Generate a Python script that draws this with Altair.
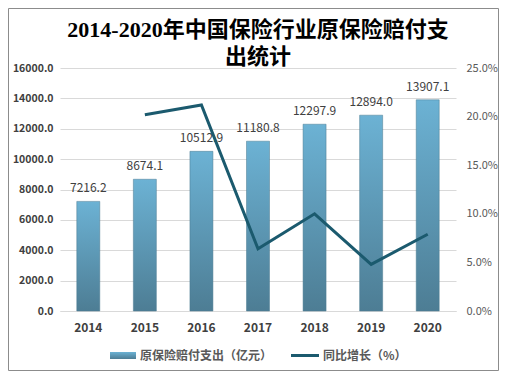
import altair as alt
import pandas as pd

years = ["2014", "2015", "2016", "2017", "2018", "2019", "2020"]
payout = [7216.2, 8674.1, 10512.9, 11180.8, 12297.9, 12894.0, 13907.1]
growth_pct = [None, 20.2, 21.2, 6.4, 10.0, 4.8, 7.9]
left_ticks = [0, 2000, 4000, 6000, 8000, 10000, 12000, 14000, 16000]
right_ticks = [0, 0.05, 0.1, 0.15, 0.2, 0.25]

title_line1 = "2014-2020年中国保险行业原保险赔付支"
title_line2 = "出统计"
legend_bar = "原保险赔付支出（亿元）"
legend_line = "同比增长（%）"

df = pd.DataFrame({"year": years, "payout": payout, "growth": growth_pct})
df_line = df.dropna().copy()
df_line["g"] = df_line["growth"] / 100.0

FONT = "Noto Sans CJK SC"
TFONT = "Liberation Serif, Noto Sans CJK SC"
W, H = 396, 243
PL, PT = 52, 60
PR = 491 - PL - W
PB = 363 - PT - H

x_enc = alt.X("year:N", sort=years, title=None,
              scale=alt.Scale(paddingInner=0.6, paddingOuter=0.3),
              axis=alt.Axis(labelAngle=0, labelFont=FONT, labelFontWeight="bold",
                            labelFontSize=12, labelColor="#404040", labelPadding=11,
                            ticks=False, domainColor="#d9d9d9", domainWidth=1))

grad = alt.Gradient(gradient="linear",
                    stops=[alt.GradientStop(color="#6cb2d4", offset=0),
                           alt.GradientStop(color="#4d7d94", offset=1)],
                    x1=0, x2=0, y1=0, y2=1)

left_axis = alt.Axis(values=left_ticks, format=".1f",
                     labelFont=FONT, labelFontWeight="bold", labelFontSize=10.5,
                     labelColor="#404040", grid=True, gridColor="#d9d9d9",
                     domain=False, ticks=False, labelPadding=7,
                     labelOverlap=False)
y_scale = alt.Scale(domain=[0, 16000])

bars = alt.Chart(df).mark_bar(color=grad, size=23, stroke="#4a7a90", strokeWidth=0.5).encode(
    x=x_enc, y=alt.Y("payout:Q", title=None, scale=y_scale, axis=left_axis))

labels = alt.Chart(df).mark_text(baseline="bottom", dy=-6, font=FONT, fontSize=12,
                                 color="#404040").encode(
    x=alt.X("year:N", sort=years),
    y=alt.Y("payout:Q", title=None, scale=y_scale, axis=left_axis),
    text=alt.Text("payout:Q", format=".1f"))

left = alt.layer(bars, labels)

line = alt.Chart(df_line).mark_line(color="#1b5a6e", strokeWidth=3).encode(
    x=alt.X("year:N", sort=years),
    y=alt.Y("g:Q", title=None, scale=alt.Scale(domain=[0, 0.25]),
            axis=alt.Axis(orient="right", values=right_ticks, format=".1%",
                          labelFont=FONT, labelFontSize=11, labelColor="#595959",
                          grid=False, domain=False, ticks=False, labelPadding=10,
                          labelOverlap=False)))

one = pd.DataFrame({"k": [0]})
leg_rect = alt.Chart(one).mark_rect(color=grad).encode(
    x=alt.value(50), x2=alt.value(76), y=alt.value(284), y2=alt.value(291))
leg_t1 = alt.Chart(one).mark_text(align="left", baseline="middle", font=FONT, fontSize=12,
                                  fontWeight="bold", color="#595959", text=legend_bar).encode(
    x=alt.value(80), y=alt.value(287.5))
leg_rule = alt.Chart(one).mark_rule(color="#1b5a6e", strokeWidth=3).encode(
    x=alt.value(231), x2=alt.value(259), y=alt.value(287.5))
leg_t2 = alt.Chart(one).mark_text(align="left", baseline="middle", font=FONT, fontSize=12,
                                  fontWeight="bold", color="#595959", text=legend_line).encode(
    x=alt.value(263), y=alt.value(287.5))
t1 = alt.Chart(one).mark_text(align="center", baseline="middle", font=TFONT, fontSize=22,
                              fontWeight="bold", color="#000000", text=title_line1).encode(
    x=alt.value(W / 2), y=alt.value(-38))
t2 = alt.Chart(one).mark_text(align="center", baseline="middle", font=TFONT, fontSize=22,
                              fontWeight="bold", color="#000000", text=title_line2).encode(
    x=alt.value(W / 2), y=alt.value(-11))
border = alt.Chart(one).mark_rect(fill=None, stroke="#8c8c8c", strokeWidth=1).encode(
    x=alt.value(-PL + 0.5), x2=alt.value(W + PR - 0.5), y=alt.value(-PT + 0.5),
    y2=alt.value(H + PB - 0.5))

chart = alt.layer(left, line, leg_rect, leg_t1, leg_rule, leg_t2, t1, t2, border).resolve_scale(
    y="independent").properties(
    width=W, height=H,
    autosize=alt.AutoSizeParams(type="none"),
    padding={"left": PL, "top": PT, "right": PR, "bottom": PB},
).configure_view(stroke=None)

chart.save("out.html", embed_options={"renderer": "svg", "actions": False})
